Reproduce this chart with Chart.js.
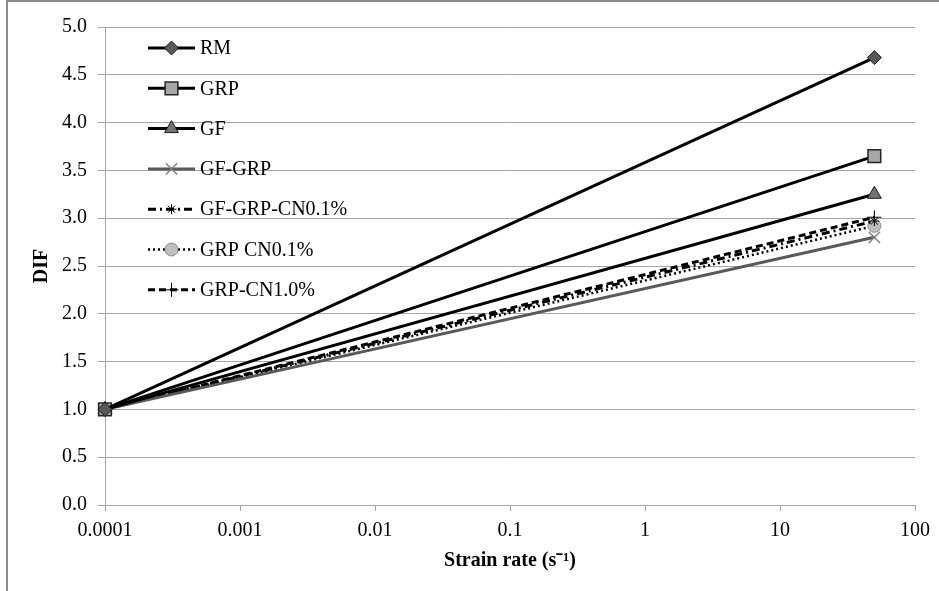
<!DOCTYPE html>
<html lang="en">
  <head>
    <meta charset="UTF-8" />
    <title>DIF vs strain rate</title>
    <script src="https://cdn.jsdelivr.net/npm/chart.js"></script>
    <style>
      html,
      body {
        margin: 0;
        padding: 0;
        background: #fff;
        overflow: hidden;
      }

      .frame {
        position: absolute;
        left: 6px;
        top: 0;
        width: 960px;
        height: 620px;
        border-left: 2px solid #8c8c8c;
        border-top: 2px solid #8c8c8c;
      }

      .chart-box {
        position: absolute;
        left: 0;
        top: 0;
        width: 939px;
        height: 591px;
      }
    </style>
  </head>
  <body>
    <div class="frame"></div>
    <div class="chart-box">
      <canvas id="difChart" width="939" height="591"></canvas>
    </div>

    <script>
      // strain rates (s-1) for the two measured points
      const strainRates = [0.0001, 50];
      const xTicks = [0.0001, 0.001, 0.01, 0.1, 1, 10, 100];
      const xTickLabels = ["0.0001", "0.001", "0.01", "0.1", "1", "10", "100"];

      // DIF values per mix
      const rm = [1.0, 4.68];
      const grp = [1.0, 3.65];
      const gf = [1.0, 3.25];
      const gfGrp = [1.0, 2.8];
      const gfGrpCn01 = [1.0, 2.97];
      const grpCn01 = [1.0, 2.92];
      const grpCn10 = [1.0, 3.01];

      const serif = "'Liberation Serif', 'Times New Roman', serif";

      function pts(vals) {
        return vals.map((v, i) => ({ x: strainRates[i], y: v }));
      }

      // legend drawn inside the plot, excel style (line + marker)
      const insideLegend = {
        id: "insideLegend",
        afterDraw(chart) {
          const ctx = chart.ctx;
          const area = chart.chartArea;
          const x0 = area.left + 43;
          const y0 = area.top + 21;
          ctx.save();
          chart.data.datasets.forEach((ds, i) => {
            const y = y0 + i * 40.3;
            ctx.setLineDash(ds.borderDash || []);
            ctx.lineWidth = ds.borderWidth;
            ctx.strokeStyle = ds.borderColor;
            ctx.beginPath();
            ctx.moveTo(x0, y);
            ctx.lineTo(x0 + 47, y);
            ctx.stroke();
            ctx.setLineDash([]);
            ctx.fillStyle = ds.pointBackgroundColor;
            ctx.strokeStyle = ds.pointBorderColor;
            ctx.lineWidth = ds.pointBorderWidth;
            Chart.helpers.drawPoint(
              ctx,
              {
                pointStyle: ds.pointStyle,
                radius: ds.pointRadius,
                borderWidth: ds.pointBorderWidth,
                rotation: 0,
              },
              x0 + 23.5,
              y
            );
            ctx.fillStyle = "#000";
            ctx.font = "20px " + serif;
            ctx.textBaseline = "middle";
            ctx.textAlign = "left";
            ctx.fillText(ds.label, x0 + 52, y + 1);
          });
          ctx.restore();
        },
      };

      const ctxDif = document.getElementById("difChart").getContext("2d");
      new Chart(ctxDif, {
        type: "line",
        data: {
          datasets: [
            {
              label: "RM",
              data: pts(rm),
              borderColor: "#000",
              borderWidth: 3,
              pointStyle: "rectRot",
              pointRadius: 7,
              pointBackgroundColor: "#595959",
              pointBorderColor: "#1a1a1a",
              pointBorderWidth: 1,
            },
            {
              label: "GRP",
              data: pts(grp),
              borderColor: "#000",
              borderWidth: 3,
              pointStyle: "rect",
              pointRadius: 9,
              pointBackgroundColor: "#a6a6a6",
              pointBorderColor: "#262626",
              pointBorderWidth: 1.5,
            },
            {
              label: "GF",
              data: pts(gf),
              borderColor: "#000",
              borderWidth: 3,
              pointStyle: "triangle",
              pointRadius: 8,
              pointBackgroundColor: "#737373",
              pointBorderColor: "#1a1a1a",
              pointBorderWidth: 1,
            },
            {
              label: "GF-GRP",
              data: pts(gfGrp),
              borderColor: "#595959",
              borderWidth: 3,
              pointStyle: "crossRot",
              pointRadius: 8,
              pointBackgroundColor: "#808080",
              pointBorderColor: "#808080",
              pointBorderWidth: 1.5,
            },
            {
              label: "GF-GRP-CN0.1%",
              data: pts(gfGrpCn01),
              borderColor: "#000",
              borderWidth: 3,
              borderDash: [8, 4, 2, 4],
              pointStyle: "star",
              pointRadius: 5,
              pointBackgroundColor: "#000",
              pointBorderColor: "#000",
              pointBorderWidth: 1,
            },
            {
              label: "GRP CN0.1%",
              data: pts(grpCn01),
              borderColor: "#000",
              borderWidth: 2.5,
              borderDash: [2, 3],
              pointStyle: "circle",
              pointRadius: 6.5,
              pointBackgroundColor: "#bfbfbf",
              pointBorderColor: "#8c8c8c",
              pointBorderWidth: 1,
            },
            {
              label: "GRP-CN1.0%",
              data: pts(grpCn10),
              borderColor: "#000",
              borderWidth: 3,
              borderDash: [7, 4],
              pointStyle: "cross",
              pointRadius: 7,
              pointBackgroundColor: "#000",
              pointBorderColor: "#000",
              pointBorderWidth: 1,
            },
          ],
        },
        options: {
          responsive: false,
          animation: false,
          layout: {
            padding: { left: 10, top: 27, right: 24, bottom: 0 },
          },
          datasets: {
            line: { clip: false, tension: 0, fill: false },
          },
          plugins: {
            legend: { display: false },
            tooltip: { enabled: false },
          },
          scales: {
            x: {
              type: "logarithmic",
              min: 0.0001,
              max: 100,
              afterBuildTicks: (scale) => {
                scale.ticks = xTicks.map((v) => ({ value: v }));
              },
              afterFit: (scale) => {
                scale.height = 86;
              },
              grid: {
                drawOnChartArea: false,
                drawTicks: true,
                tickLength: 6,
                color: "#a6a6a6",
              },
              border: { color: "#a6a6a6" },
              ticks: {
                autoSkip: false,
                maxRotation: 0,
                padding: 8,
                color: "#000",
                font: { family: serif, size: 20 },
                callback: (v, i) => xTickLabels[i],
              },
              title: {
                display: true,
                text: "Strain rate (s\u207B\u00B9)",
                color: "#000",
                font: { family: serif, size: 20, weight: "bold" },
                padding: { top: 18, bottom: 18 },
              },
            },
            y: {
              min: 0,
              max: 5,
              afterFit: (scale) => {
                scale.width = 95;
              },
              grid: {
                drawTicks: true,
                tickLength: 7,
                color: "#a6a6a6",
              },
              border: { color: "#a6a6a6" },
              ticks: {
                stepSize: 0.5,
                padding: 11,
                color: "#000",
                font: { family: serif, size: 20 },
                callback: (v) => v.toFixed(1),
              },
              title: {
                display: true,
                text: "DIF",
                color: "#000",
                font: { family: serif, size: 20, weight: "bold" },
                padding: { top: 20, bottom: 20 },
              },
            },
          },
        },
        plugins: [insideLegend],
      });
    </script>
  </body>
</html>
